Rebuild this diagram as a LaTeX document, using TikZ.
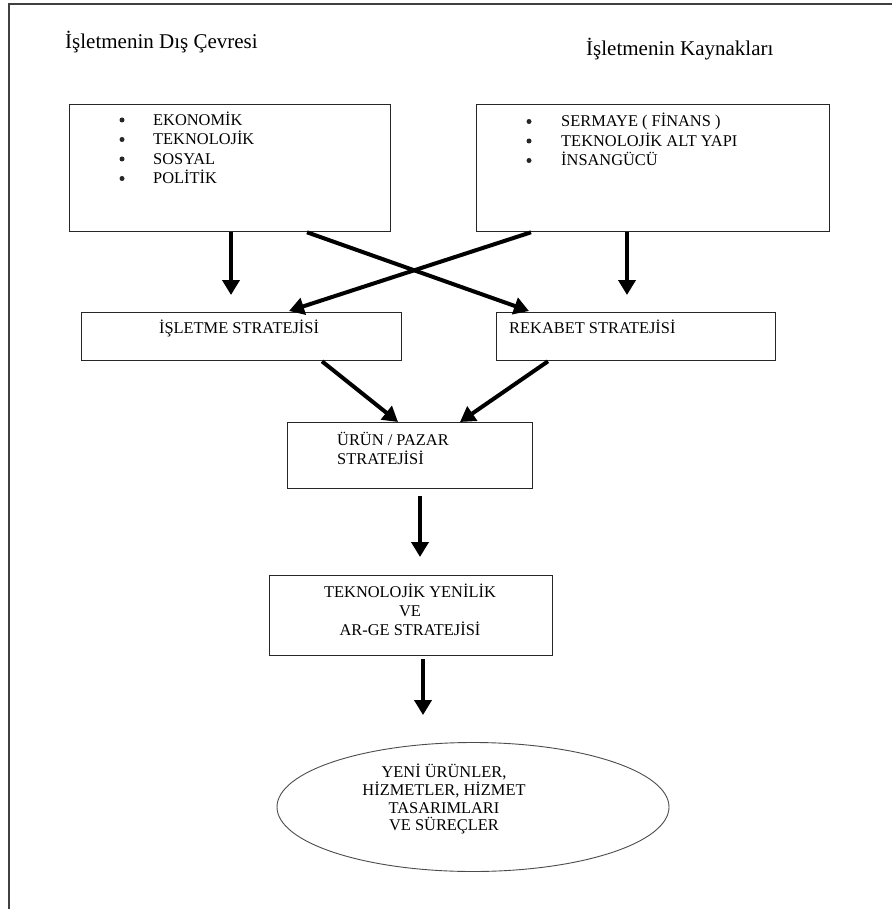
\documentclass[tikz,border=0pt]{standalone}
\usepackage{fontspec}
\setmainfont{Liberation Serif}
\usetikzlibrary{arrows.meta,shapes.geometric}
\begin{document}
\begin{tikzpicture}[x=1pt,y=-1pt,
  box/.style={draw=black!85, line width=1.3pt, inner sep=0pt, anchor=north west},
  txt/.style={inner sep=0pt, anchor=base west, font=\fontsize{16.4}{19}\selectfont},
  ctxt/.style={inner sep=0pt, anchor=base, font=\fontsize{16.4}{19}\selectfont},
  head/.style={inner sep=0pt, anchor=base west, font=\fontsize{21}{25}\selectfont},
  bul/.style={circle, fill=black!85, inner sep=0pt, minimum size=5pt},
  flow/.style={line width=4pt, -{Triangle[length=15pt,width=17pt]}},
]
\useasboundingbox (0,0) rectangle (892,909);
\fill[white] (0,0) rectangle (892,909);

% open page frame
\coordinate (fb) at (9,909);
\coordinate (fc) at (9,4);
\coordinate (fr) at (892,4);
\draw[black!75, line width=1.8pt] (fb) -- (fc) -- (fr);

% headings
\node[head] (h1) at (65,49) {İşletmenin Dış Çevresi};
\node[head] (h2) at (586,56) {İşletmenin Kaynakları};

% top boxes
\node[box, minimum width=321pt, minimum height=127pt] (b1) at (69,104) {};
\node[box, minimum width=353pt, minimum height=127pt] (b2) at (476,104) {};

\foreach \y/\t [count=\i] in {125.5/EKONOMİK, 145/TEKNOLOJİK, 164.5/SOSYAL, 184/POLİTİK}{
  \node[bul] (lb\i) at (122,\y-5.5) {};
  \node[txt] (lt\i) at (153,\y) {\t};
}
\foreach \y/\t [count=\i] in {127/{SERMAYE ( FİNANS )}, 146.5/TEKNOLOJİK ALT YAPI, 166/İNSANGÜCÜ}{
  \node[bul] (rb\i) at (529,\y-5.5) {};
  \node[txt] (rt\i) at (561,\y) {\t};
}

% strategy boxes
\node[box, minimum width=320pt, minimum height=48pt] (s1) at (81,312) {};
\node[box, minimum width=279pt, minimum height=48pt] (s2) at (496,312) {};
\node[ctxt] (s1t) at (239,333) {İŞLETME STRATEJİSİ};
\node[txt] (s2t) at (509,333) {REKABET STRATEJİSİ};

\node[box, minimum width=245pt, minimum height=66pt] (u) at (287,422) {};
\node[txt] (ut1) at (337,445) {ÜRÜN / PAZAR};
\node[txt] (ut2) at (337,464.5) {STRATEJİSİ};

\node[box, minimum width=283pt, minimum height=80pt] (t) at (269,575) {};
\node[ctxt] (tt1) at (410,597.5) {TEKNOLOJİK YENİLİK};
\node[ctxt] (tt2) at (410,616) {VE};
\node[ctxt] (tt3) at (410,635) {AR-GE STRATEJİSİ};

% outcome
\node[draw=black!70, line width=0.9pt, ellipse, minimum width=392pt, minimum height=129pt, inner sep=0pt] (e) at (473,807) {};
\node[ctxt] (et1) at (444,777) {YENİ ÜRÜNLER,};
\node[ctxt] (et2) at (444,795.5) {HİZMETLER, HİZMET};
\node[ctxt] (et3) at (444,813) {TASARIMLARI};
\node[ctxt] (et4) at (444,830.5) {VE SÜREÇLER};

% connectors
\draw[flow] ([xshift=162pt]b1.south west) -- ([xshift=150pt,yshift=17pt]s1.north west);
\draw[flow] ([xshift=151pt]b2.south west) -- ([xshift=131pt,yshift=17pt]s2.north west);
\draw[flow] ([xshift=238pt]b1.south west) -- ([xshift=33pt,yshift=1pt]s2.north west);
\draw[flow] ([xshift=55pt]b2.south west) -- ([xshift=208pt,yshift=1pt]s1.north west);
\draw[flow] ([xshift=241pt]s1.south west) -- ([xshift=111pt]u.north west);
\draw[flow] ([xshift=52pt]s2.south west) -- ([xshift=173pt]u.north west);
\draw[flow] ([xshift=133pt,yshift=-7pt]u.south west) -- ([xshift=151pt,yshift=18pt]t.north west);
\draw[flow] ([xshift=154pt,yshift=-3pt]t.south west) -- ([xshift=-50pt,yshift=27pt]e.north);
\end{tikzpicture}
\end{document}
